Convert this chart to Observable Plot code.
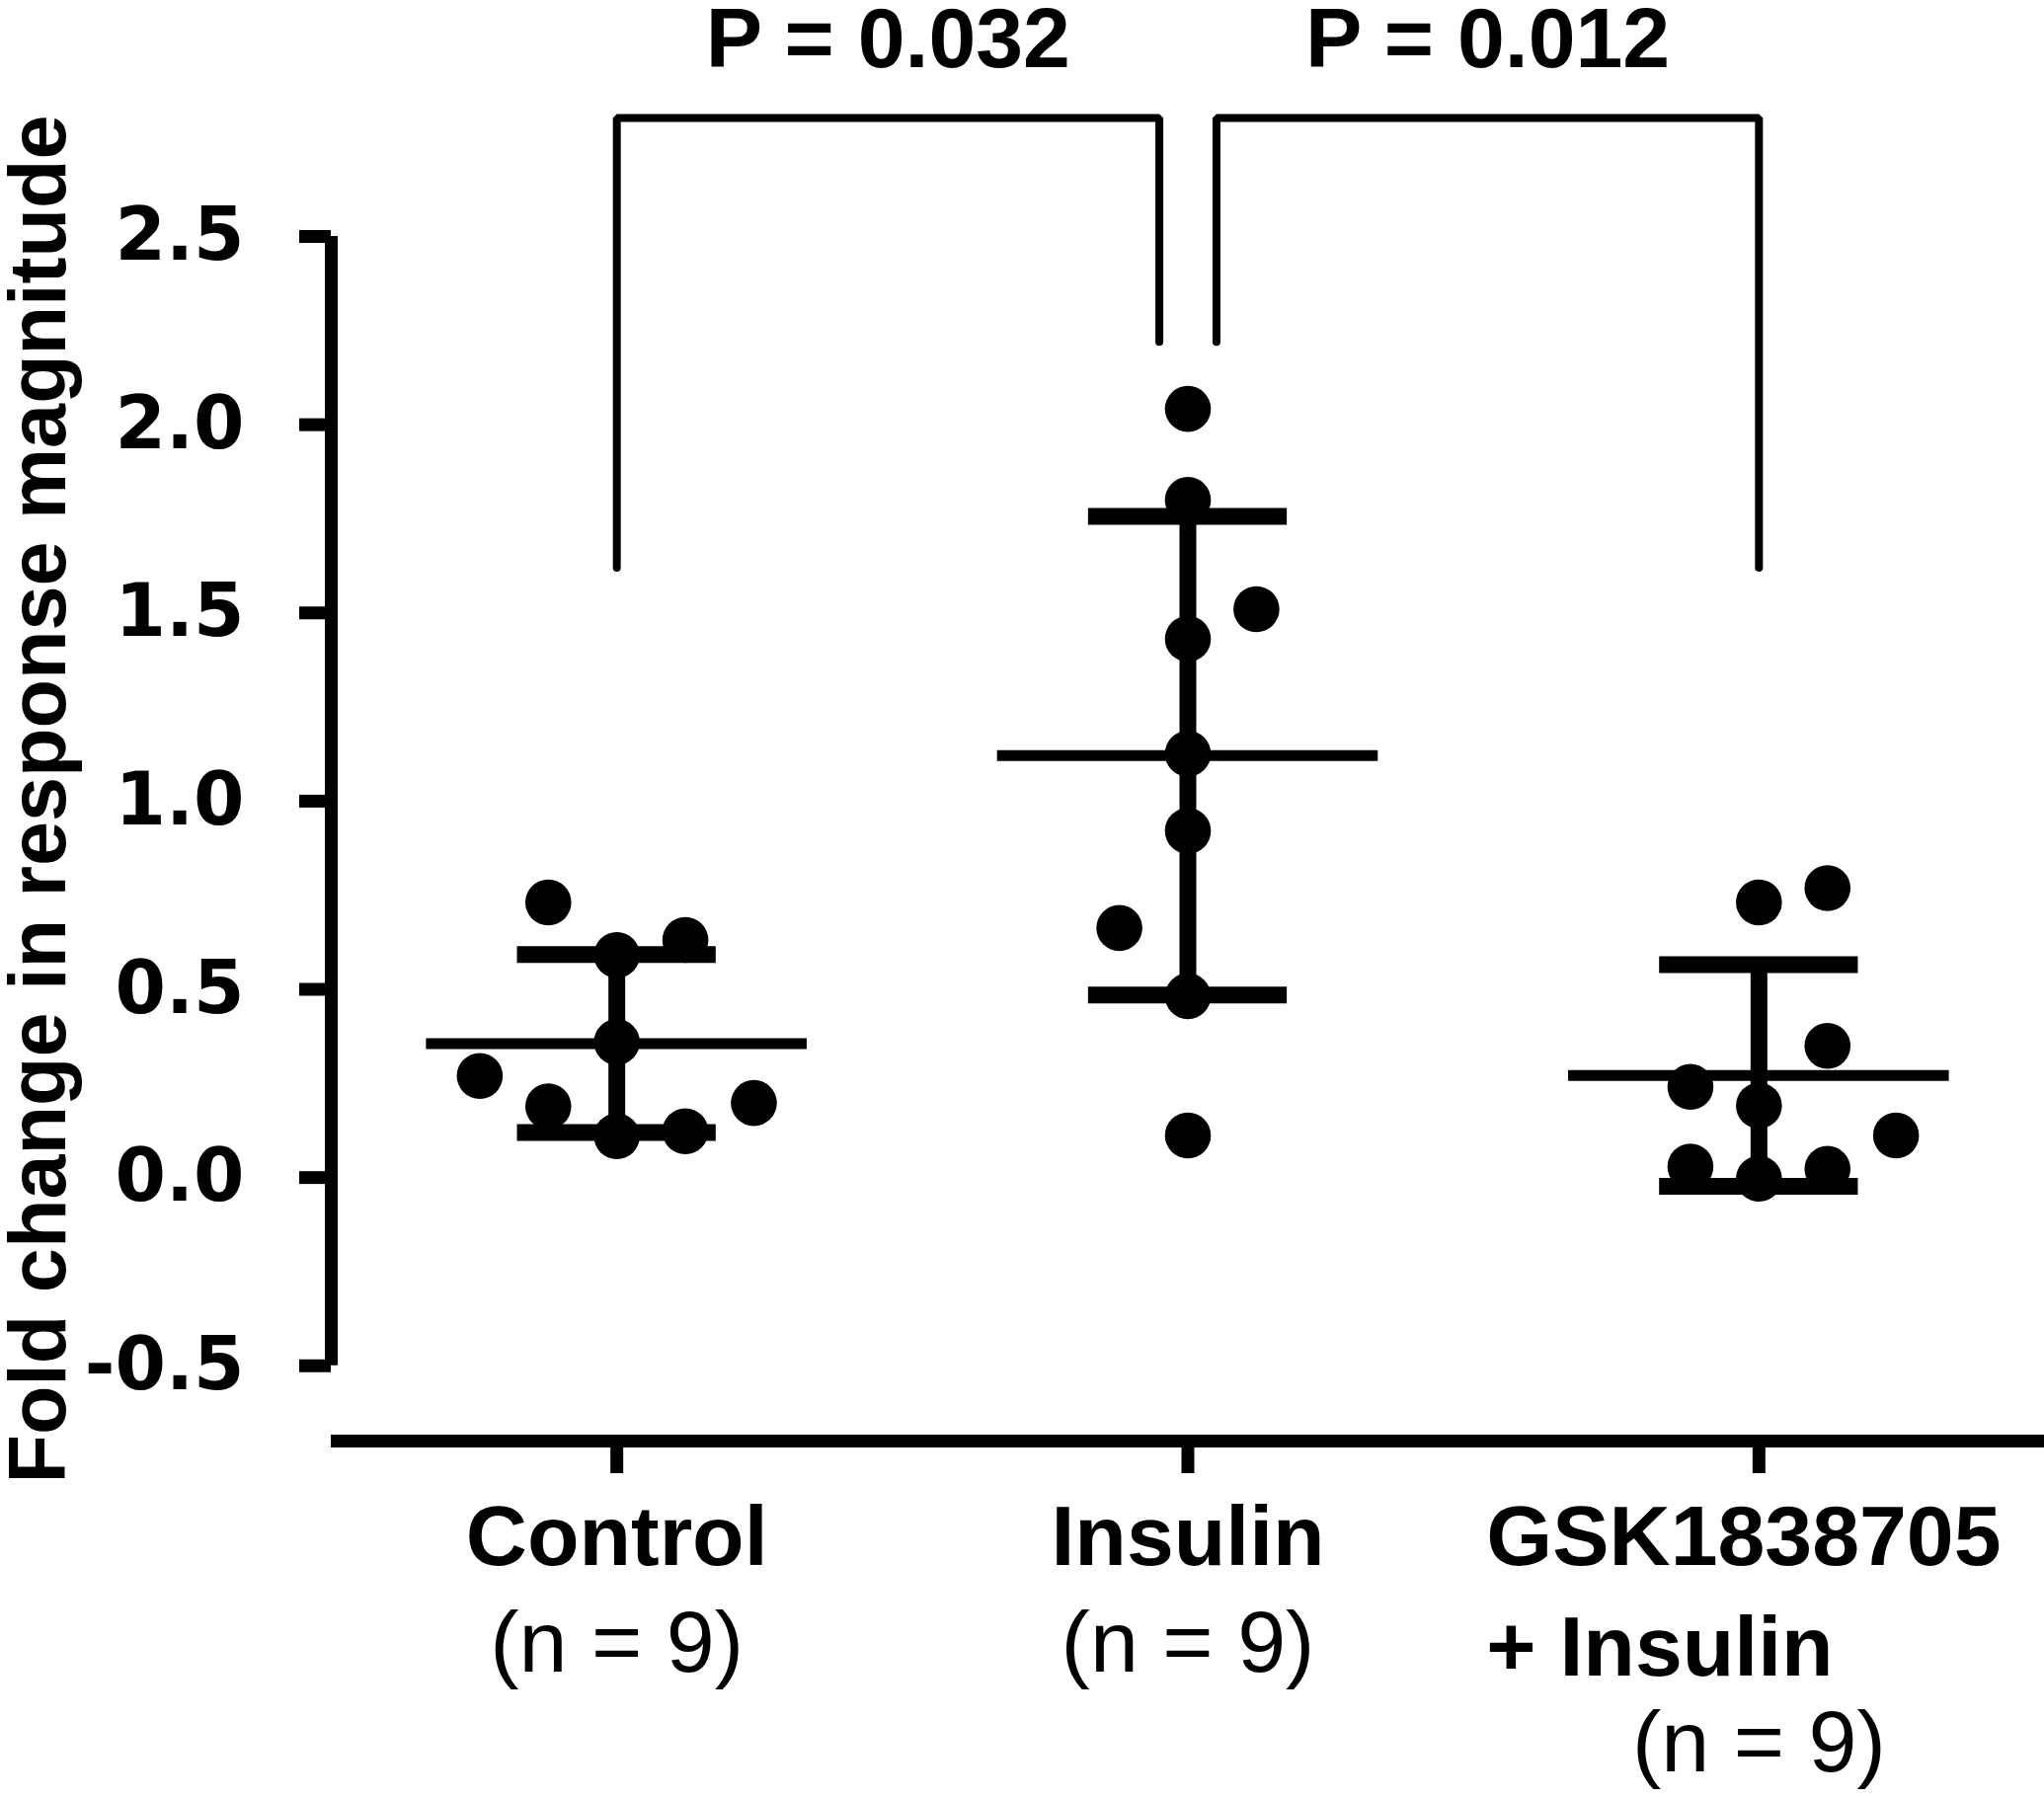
<!DOCTYPE html>
<html>
<head>
<meta charset="utf-8">
<script src="https://cdn.jsdelivr.net/npm/d3@7"></script>
<script src="https://cdn.jsdelivr.net/npm/@observablehq/plot@0.6"></script>
<style>
  html, body { margin: 0; padding: 0; background: #fff; overflow: hidden; }
  #chart svg { display: block; }
</style>
</head>
<body>
<div id="chart"></div>
<script>
// ---- data ----
const categories = ["Control", "Insulin", "GSK1838705\n+ Insulin"];
const nLabels = ["(n = 9)", "(n = 9)", "(n = 9)"];

const controlValues = [0.731, 0.591, 0.631, 0.270, 0.360, 0.189, 0.198, 0.110, 0.123];
const insulinValues = [2.042, 1.800, 1.510, 1.431, 1.126, 0.921, 0.663, 0.482, 0.112];
const gskValues     = [0.731, 0.769, 0.350, 0.241, 0.191, 0.112, 0.029, 0.023, -0.003];

// scatter column of each point (Prism-style side-by-side placement)
const controlSlots = [-1, 0, 1, -2, 0, -1, 2, 0, 1];
const insulinSlots = [0, 0, 1, 0, 0, 0, -1, 0, 0];
const gskSlots     = [0, 1, 1, -1, 0, 2, -1, 1, 0];

const yTicks = [-0.5, 0, 0.5, 1, 1.5, 2, 2.5];

const pPairs  = [[0, 1], [1, 2]];
const pLabels = ["P = 0.032", "P = 0.012"];

const yTitle = "Fold change in response magnitude";

// ---- layout constants ----
const SLOT = 0.12, MEAN_HALF = 1 / 3, CAP_HALF = 0.174;
const BRACKET_Y = 2.815, OUTER_LEG = 1.62, INNER_LEG = 2.22, INNER_GAP = 0.05, P_Y = 2.95;
const Y_DOMAIN = [-0.7, 2.5];
const FONT = "Liberation Sans, Arial, Helvetica, sans-serif";

// ---- derived tables ----
const groups = [controlValues, insulinValues, gskValues];
const slots = [controlSlots, insulinSlots, gskSlots];
const points = groups.flatMap((vals, i) => vals.map((v, j) => ({i, value: v, slot: slots[i][j]})));
const stats = groups.map((vals, i) => {
  const m = d3.mean(vals), s = d3.deviation(vals);
  return {i, mean: m, lo: m - s, hi: m + s};
});
const caps = stats.flatMap(d => [{i: d.i, y: d.lo}, {i: d.i, y: d.hi}]);

const legBottom = c => (c === 1 ? INNER_LEG : OUTER_LEG);
const bracketEnds = ([a, b]) => [a + (a === 1 ? INNER_GAP : 0), b - (b === 1 ? INNER_GAP : 0)];
const bracketPts = pPairs.flatMap((pair, k) => {
  const [xa, xb] = bracketEnds(pair);
  return [
    {k, x: xa, y: legBottom(pair[0])}, {k, x: xa, y: BRACKET_Y},
    {k, x: xb, y: BRACKET_Y}, {k, x: xb, y: legBottom(pair[1])}
  ];
});
const pText = pPairs.map((pair, k) => {
  const [xa, xb] = bracketEnds(pair);
  return {x: (xa + xb) / 2, label: pLabels[k]};
});
const catIdx = categories.map((c, i) => i);

const chart = Plot.plot({
  width: 2070,
  height: 1821,
  marginLeft: 335,
  marginRight: 0,
  marginTop: 239,
  marginBottom: 362,
  style: {fontFamily: FONT, background: "#fff", overflow: "visible", color: "#000"},
  x: {type: "linear", domain: [-0.5, 2.5], axis: null},
  y: {domain: Y_DOMAIN, axis: null},
  marks: [
    // x axis baseline
    Plot.ruleY([Y_DOMAIN[0]], {strokeWidth: 13, stroke: "#000"}),
    // y axis line
    Plot.ruleX([-0.5], {y1: yTicks[0], y2: yTicks[yTicks.length - 1], strokeWidth: 13, stroke: "#000"}),
    Plot.axisY({
      anchor: "left", ticks: yTicks, tickSize: 32, tickPadding: 56,
      tickFormat: d => d.toFixed(1), strokeWidth: 13,
      fontSize: 74, fontWeight: "bold", fontFamily: "DejaVu Sans", label: null
    }),
    Plot.axisX({
      anchor: "bottom", ticks: catIdx, tickSize: 33, strokeWidth: 13,
      tickFormat: () => "", label: null
    }),
    // mean lines
    Plot.ruleY(stats, {x1: d => d.i - MEAN_HALF, x2: d => d.i + MEAN_HALF, y: "mean", strokeWidth: 11, stroke: "#000"}),
    // SD bars
    Plot.ruleX(stats, {x: "i", y1: "lo", y2: "hi", strokeWidth: 17, stroke: "#000"}),
    Plot.ruleY(caps, {x1: d => d.i - CAP_HALF, x2: d => d.i + CAP_HALF, y: "y", strokeWidth: 17, stroke: "#000"}),
    // points
    Plot.dot(points, {x: d => d.i + d.slot * SLOT, y: "value", r: 23.3, fill: "#000", stroke: null}),
    // significance brackets
    Plot.line(bracketPts, {x: "x", y: "y", z: "k", strokeWidth: 8, stroke: "#000", strokeLinejoin: "miter", curve: "linear"}),
    Plot.text(pText, {x: "x", y: () => P_Y, text: "label", fontSize: 86, fontWeight: "bold", lineAnchor: "bottom", fill: "#000"}),
    // category labels
    Plot.text(catIdx.filter(i => i < 2), {x: d => d, text: d => categories[d], frameAnchor: "bottom", textAnchor: "middle", lineAnchor: "bottom", dy: 125, fontSize: 86, fontWeight: "bold", fill: "#000"}),
    Plot.text(catIdx.filter(i => i === 2), {x: d => d, text: d => categories[d], frameAnchor: "bottom", lineAnchor: "bottom", textAnchor: "start", dx: -276, dy: 237, lineHeight: 1.3, fontSize: 86, fontWeight: "bold", fill: "#000"}),
    Plot.text(catIdx.filter(i => i < 2), {x: d => d, text: d => nLabels[d], frameAnchor: "bottom", textAnchor: "middle", lineAnchor: "bottom", dy: 233, fontSize: 88, fill: "#000"}),
    Plot.text(catIdx.filter(i => i === 2), {x: d => d, text: d => nLabels[d], frameAnchor: "bottom", textAnchor: "middle", lineAnchor: "bottom", dy: 334, fontSize: 88, fill: "#000"}),
    // y axis title
    Plot.text([yTitle], {frameAnchor: "left", textAnchor: "middle", rotate: -90, dx: -270, dy: -40, lineAnchor: "bottom", fontSize: 81, fontWeight: "bold", fill: "#000"})
  ]
});
document.getElementById("chart").appendChild(chart);
</script>
</body>
</html>
